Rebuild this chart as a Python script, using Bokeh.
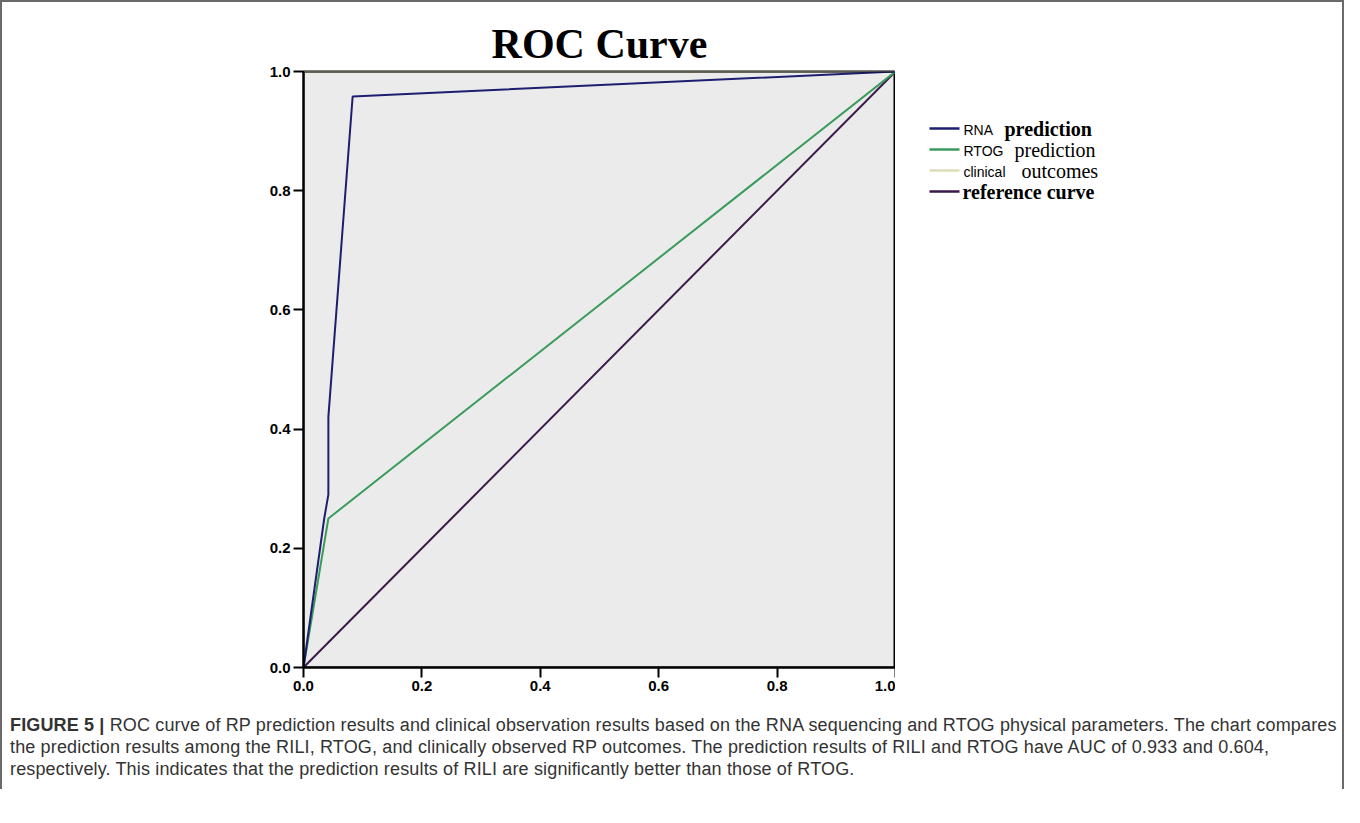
from bokeh.plotting import figure
from bokeh.models import Range1d, FixedTicker, Div, Column, Row, BoxAnnotation
from bokeh.embed import file_html
from bokeh.resources import INLINE
from bokeh.core.properties import value

# ---------------- data ----------------
rna_fpr = [0.0, 0.035, 0.042, 0.042, 0.083, 1.0]
rna_tpr = [0.0, 0.25, 0.29, 0.42, 0.958, 1.0]
rtog_fpr = [0.0, 0.042, 1.0]
rtog_tpr = [0.0, 0.25, 1.0]
clin_fpr = [0.0, 0.0, 1.0]
clin_tpr = [0.0, 1.0, 1.0]
ref_fpr = [0.0, 1.0]
ref_tpr = [0.0, 1.0]
ticks = [0.0, 0.2, 0.4, 0.6, 0.8, 1.0]
tick_labels = ["0.0", "0.2", "0.4", "0.6", "0.8", "1.0"]
legend_sans = ["RNA", "RTOG", "clinical", ""]
legend_serif = ["prediction", "prediction", "outcomes", "reference curve"]
legend_bold = [True, False, False, True]
colors = ["#1e1e70", "#3a9c5c", "#dcdcb8", "#3a1a4a"]

# ---------------- main chart ----------------
p = figure(width=893, height=710, x_range=Range1d(0, 1), y_range=Range1d(0, 1),
           output_backend="svg", toolbar_location=None,
           min_border_left=301, min_border_right=0, min_border_top=69, min_border_bottom=45)
p.title.text = "ROC Curve"
p.title.align = "center"
p.title.text_font = "Liberation Serif"
p.title.text_font_size = "42px"
p.title.text_font_style = "bold"
p.title.text_color = "black"
p.title.standoff = 10
p.background_fill_color = "#ebebeb"
p.border_fill_color = "white"
p.outline_line_color = "black"
p.outline_line_width = 2
p.grid.visible = False

for ax in (p.xaxis[0], p.yaxis[0]):
    ax.ticker = FixedTicker(ticks=ticks)
    ax.major_label_overrides = {t: l for t, l in zip(ticks, tick_labels)}
    ax.axis_line_width = 2
    ax.axis_line_color = "black"
    ax.major_tick_line_width = 2
    ax.major_tick_out = 10
    ax.major_tick_in = 0
    ax.minor_tick_out = 0
    ax.minor_tick_in = 0
    ax.major_label_text_font = "Liberation Sans"
    ax.major_label_text_font_size = "15px"
    ax.major_label_text_font_style = "bold"
    ax.major_label_text_color = "black"
    ax.major_label_standoff = 3

p.line(clin_fpr, clin_tpr, line_color=colors[2], line_width=1.5, level="underlay")
p.line(ref_fpr, ref_tpr, line_color=colors[3], line_width=2)
p.line(rtog_fpr, rtog_tpr, line_color=colors[1], line_width=2)
p.line(rna_fpr, rna_tpr, line_color=colors[0], line_width=2)
# frame border drawn on top of the glyphs
p.add_layout(BoxAnnotation(left=0, right=1, bottom=0, top=1, fill_alpha=0,
                           line_color="black", line_width=3, level="overlay"))

# ---------------- legend panel (its frame is aligned with the main frame) ----------------
lg = figure(width=447, height=710, x_range=Range1d(903, 1350), y_range=Range1d(675, 79),
            output_backend="svg", toolbar_location=None, min_border=0)
lg.axis.visible = False
lg.grid.visible = False
lg.outline_line_color = None
lg.background_fill_color = "white"
lg.border_fill_color = "white"

row_y = [136, 157, 178, 199]
serif_x = [1012, 1022, 1029, 970]
for i in range(4):
    lg.line([937, 967], [row_y[i], row_y[i]], line_color=colors[i], line_width=2.5)
    if legend_sans[i]:
        lg.text([971], [row_y[i] + 1], text=[legend_sans[i]], text_font=value("Liberation Sans"),
                text_font_size="14px", text_baseline="middle", text_color="black")
    lg.text([serif_x[i]], [row_y[i]], text=[legend_serif[i]], text_font=value("Liberation Serif"),
            text_font_size="20px", text_baseline="middle", text_color="black",
            text_font_style="bold" if legend_bold[i] else "normal")

caption_html = (
    "<div style=\"font-family:'Liberation Sans',Arial,sans-serif;font-size:18px;line-height:22px;"
    "letter-spacing:0.15px;color:#333;padding-left:8px;white-space:nowrap\">"
    "<b>FIGURE 5 |</b> ROC curve of RP prediction results and clinical observation results based on the "
    "RNA sequencing and RTOG physical parameters. The chart compares<br>"
    "the prediction results among the RILI, RTOG, and clinically observed RP outcomes. The prediction "
    "results of RILI and RTOG have AUC of 0.933 and 0.604,<br>"
    "respectively. This indicates that the prediction results of RILI are significantly better than those of RTOG."
    "</div>"
)
caption = Div(text=caption_html, width=1336, height=75, margin=(2, 0, 0, 0))

layout = Column(children=[Row(children=[p, lg]), caption],
                styles={"border": "2px solid #6a6a6a", "border-bottom": "none"})

open("out.html", "w").write(file_html(layout, INLINE))
